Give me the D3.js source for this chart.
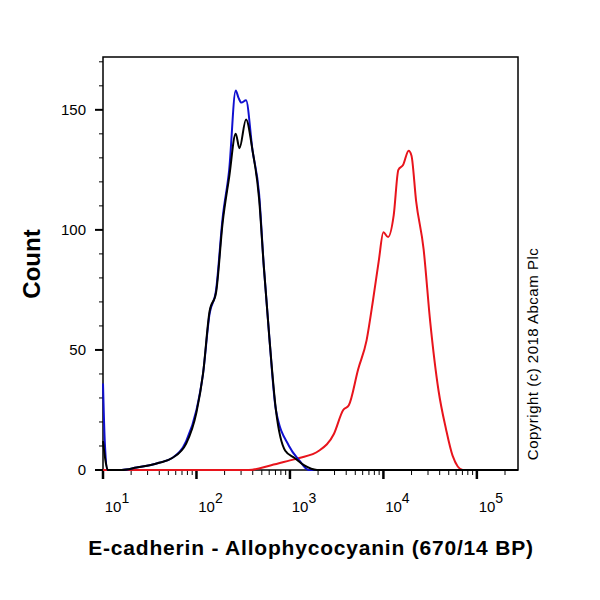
<!DOCTYPE html>
<html>
<head>
<meta charset="UTF-8">
<script src="https://cdn.jsdelivr.net/npm/d3@7"></script>
<style>
  body {margin: 0; background: #fff;}
  text {font-family: "Liberation Sans", Arial, sans-serif;}
</style>
</head>
<body>
<svg id="chart" width="600" height="600"></svg>
<script>
// curves: [log10 of intensity, count]
const blue = [[1.0,36],[1.02,11],[1.05,0],[1.2,0],[1.36,1],[1.5,2],[1.6,3],[1.74,5],[1.89,12],[2.0,25],[2.07,40],[2.14,65],[2.21,75],
  [2.28,105],[2.35,125],[2.42,158],[2.45,155],[2.48,153],[2.53,154],[2.6,133],[2.67,115],[2.72,85],[2.78,55],[2.85,25],
  [2.99,10],[3.1,4],[3.2,0],[5.44,0]];
const black = [[1.0,12],[1.03,3],[1.05,0],[1.2,0],[1.36,1],[1.5,2],[1.6,3],[1.74,5],[1.89,11],[2.0,24],[2.07,40],[2.14,66],[2.21,74],
  [2.28,103],[2.35,122],[2.42,140],[2.46,134],[2.53,146],[2.6,133],[2.67,113],[2.72,85],[2.78,55],[2.85,25],
  [2.95,8],[3.05,5],[3.15,2],[3.29,0],[5.44,0]];
const red = [[1.0,0],[2.56,0],[2.8,2],[3.0,4],[3.1,5],[3.31,8],[3.47,15],[3.57,25],[3.63,27],[3.73,42],[3.82,54],[3.89,71],
  [3.95,87],[4.0,99],[4.05,97],[4.11,106],[4.16,125],[4.21,127],[4.27,133],[4.30,131],[4.35,112],[4.43,92],
  [4.50,62],[4.59,33],[4.67,17],[4.74,6],[4.85,0],[5.44,0]];
const yMajor = [0, 50, 100, 150];
const xDecades = [1, 2, 3, 4, 5];

const svg = d3.select("#chart");
const x = d3.scaleLinear().domain([1, 5.44]).range([103, 518]);
const y = d3.scaleLinear().domain([0, 172]).range([470, 57]);

// frame
svg.append("rect").attr("x", 103).attr("y", 57).attr("width", 415).attr("height", 413)
   .attr("fill", "none").attr("stroke", "#000").attr("stroke-width", 1.5);

// y ticks
const yAxis = svg.append("g");
d3.range(0, 171, 10).forEach(v => {
  const major = yMajor.includes(v);
  yAxis.append("line").attr("x1", 103).attr("x2", 103 - (major ? 8 : 4))
       .attr("y1", y(v)).attr("y2", y(v)).attr("stroke", "#000").attr("stroke-width", major ? 2 : 1);
});
yMajor.forEach(v => yAxis.append("text").attr("x", 86).attr("y", y(v) + 5).attr("text-anchor", "end")
  .attr("font-size", 15).text(v));

// x ticks (log)
const xAxis = svg.append("g");
xDecades.forEach(d => {
  for (let m = 1; m <= 9; m++) {
    const e = d + Math.log10(m);
    if (e > 5.44) break;
    xAxis.append("line").attr("x1", x(e)).attr("x2", x(e)).attr("y1", 470).attr("y2", 470 + (m === 1 ? 9 : 5))
         .attr("stroke", "#000").attr("stroke-width", m === 1 ? 2.5 : 1);
  }
  const t = xAxis.append("text").attr("x", x(d) + 14).attr("y", 512).attr("text-anchor", "middle").attr("font-size", 15);
  t.append("tspan").text("10");
  t.append("tspan").attr("dy", -9).attr("font-size", 14).text(d);
});

// curves
const line = d3.line().x(d => x(d[0])).y(d => y(d[1])).curve(d3.curveMonotoneX);
[[red, "#e8141c"], [blue, "#1010d0"], [black, "#000"]].forEach(([data, c]) => {
  svg.append("path").attr("d", line(data)).attr("fill", "none").attr("stroke", c).attr("stroke-width", 2);
});

// labels
svg.append("text").attr("transform", "translate(40,264) rotate(-90)").attr("text-anchor", "middle")
   .attr("font-size", 24).attr("font-weight", "bold").text("Count");
svg.append("text").attr("x", 311).attr("y", 555).attr("text-anchor", "middle")
   .attr("font-size", 21).attr("font-weight", "bold").attr("letter-spacing", 0.8)
   .text("E-cadherin - Allophycocyanin (670/14 BP)");
svg.append("text").attr("transform", "translate(538,354) rotate(-90)").attr("text-anchor", "middle")
   .attr("font-size", 15).attr("letter-spacing", 0.5).text("Copyright (c) 2018 Abcam Plc");
</script>
</body>
</html>
